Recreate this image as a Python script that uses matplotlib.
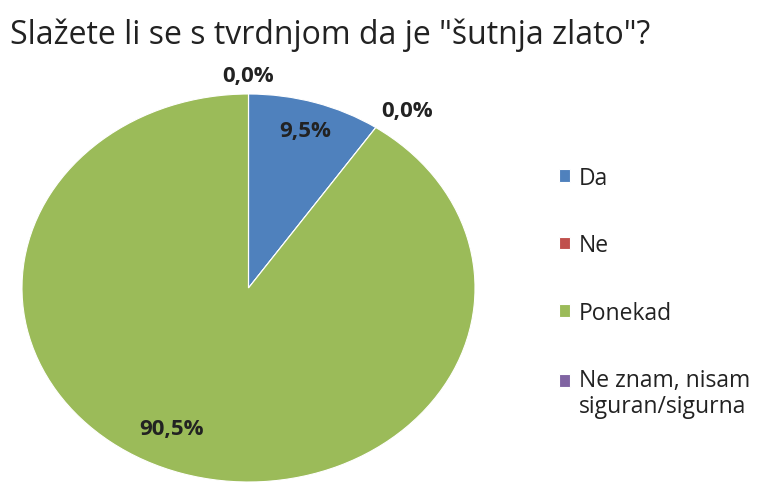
import numpy as np
import matplotlib
matplotlib.use("Agg")
import matplotlib.pyplot as plt
from matplotlib.patches import Rectangle
from matplotlib.legend_handler import HandlerPatch

title = 'Slažete li se s tvrdnjom da je "šutnja zlato"?'
categories = ["Da", "Ne", "Ponekad", "Ne znam, nisam\nsiguran/sigurna"]
values = [9.5, 0.0, 90.5, 0.0]
colors = ["#4F81BD", "#C0504D", "#9BBB59", "#8064A2"]

plt.rcParams['font.family'] = ['Open Sans', 'DejaVu Sans']

fig = plt.figure(figsize=(7.6, 4.85), dpi=100)
fig.patch.set_facecolor("white")
W, H = 760, 485
ax = fig.add_axes([22 / W, (H - 483) / H, 453 / W, 388 / H])

wedges, _ = ax.pie(values, colors=colors, startangle=90, counterclock=False,
                   wedgeprops=dict(edgecolor="white", linewidth=0.8))
ax.set_aspect("auto")
ax.set_xlim(-1, 1)
ax.set_ylim(-1, 1)
ax.axis("off")

for w, v in zip(wedges, values):
    mid = np.deg2rad((w.theta1 + w.theta2) / 2)
    txt = f"{v:.1f}%".replace(".", ",")
    if v == 0:
        r = 1.04
        x, y = r * np.cos(mid), r * np.sin(mid)
        ha = "center" if abs(x) < 0.1 else ("left" if x > 0 else "right")
        va = "bottom" if y > 0 else "top"
    else:
        if v > 50:
            r = 0.80
            mid = mid - np.deg2rad(8)
        else:
            r = 0.85
        x, y = r * np.cos(mid), r * np.sin(mid)
        ha, va = "center", "center"
    ax.text(x, y, txt, ha=ha, va=va, fontsize=16, fontweight="bold",
            color="#222222", clip_on=False)

fig.text(10 / W, 1 - 35 / H, title, fontsize=23, ha="left", va="center", color="#222222")


def first_line_patch(legend, orig_handle, xdescent, ydescent, width, height, fontsize):
    return Rectangle((-xdescent, -ydescent + 0.58 * fontsize), width, height)


def plain_patch(legend, orig_handle, xdescent, ydescent, width, height, fontsize):
    return Rectangle((-xdescent, -ydescent), width, height)


hmap = {wedges[-1]: HandlerPatch(patch_func=first_line_patch)}
for wdg in wedges[:-1]:
    hmap[wdg] = HandlerPatch(patch_func=plain_patch)

leg = fig.legend(wedges, categories, loc="upper left",
                 bbox_to_anchor=(538 / W, 1 - 146 / H), frameon=False,
                 fontsize=16.5, labelspacing=1.9, handlelength=0.48, handleheight=0.48,
                 handletextpad=0.4, handler_map=hmap)
for t in leg.get_texts():
    t.set_color("#222222")
    t.set_linespacing(1.1)

fig.savefig("out.png", dpi=100, facecolor="white")
